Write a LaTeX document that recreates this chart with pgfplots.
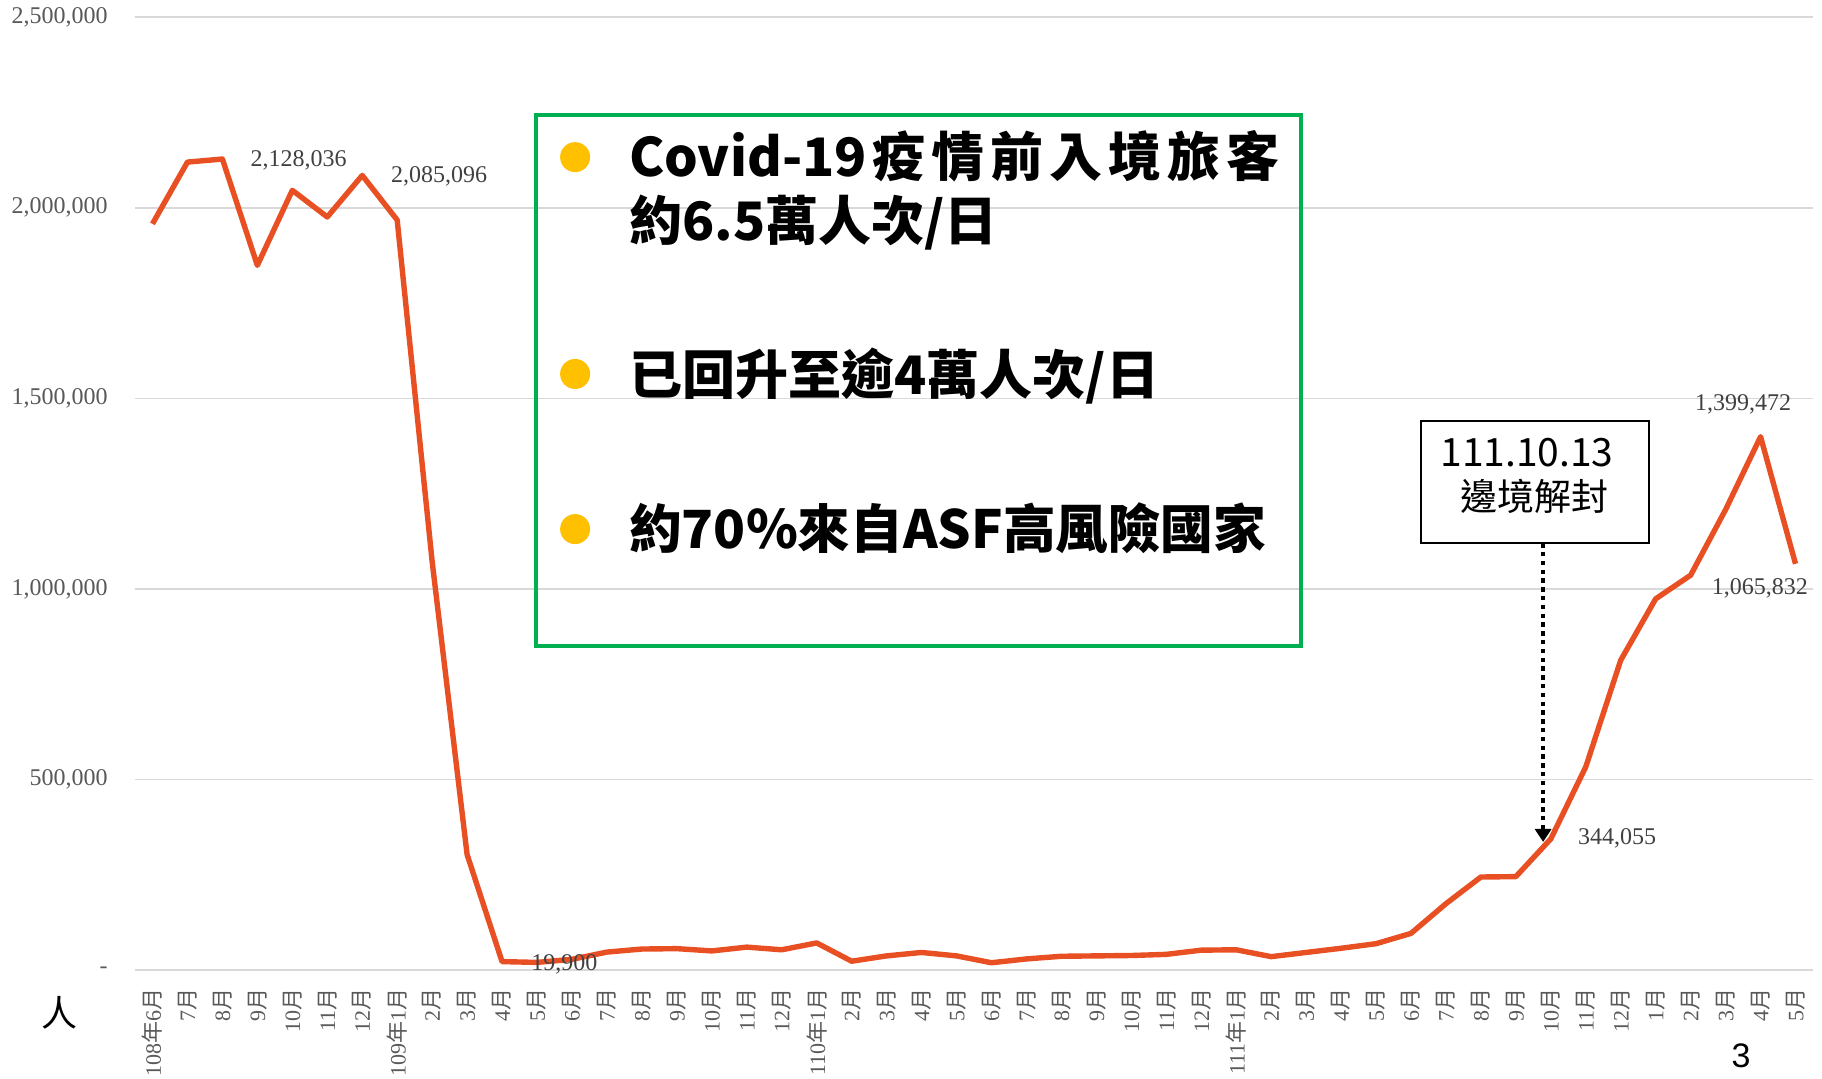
\documentclass[border=0pt]{standalone}
\usepackage{pgfplots}
\pgfplotsset{compat=1.18}
\usetikzlibrary{arrows.meta}
\usepackage{fontspec}
\setmainfont{Liberation Serif}
\newfontfamily\cjk{Noto Sans CJK TC}
\newfontfamily\sans{Liberation Sans}
\definecolor{lineor}{RGB}{232,80,36}
\definecolor{gridg}{RGB}{217,217,217}
\definecolor{tickg}{RGB}{89,89,89}
\definecolor{labg}{RGB}{64,64,64}
\definecolor{boxgreen}{RGB}{0,176,80}
\definecolor{bullety}{RGB}{255,192,0}
\newcommand\Y{{\cjk 年}}
\newcommand\M{{\cjk 月}}
\begin{document}
\begin{tikzpicture}
\begin{axis}[
  at={(0pt,0pt)}, anchor=south west,
  scale only axis, width=839pt, height=476.35pt,
  xmin=-0.5, xmax=47.5, ymin=0, ymax=2500000,
  clip=false,
  axis line style={draw=none},
  tick style={draw=none},
  major tick length=0pt,
  ymajorgrids, grid style={gridg, line width=0.8pt},
  scaled y ticks=false,
  ytick={0,500000,1000000,1500000,2000000,2500000},
  yticklabels={{-\hspace{6pt}},{500,000},{1,000,000},{1,500,000},{2,000,000},{2,500,000}},
  yticklabel style={font=\fontsize{12}{12}\selectfont, text=tickg, anchor=east, inner sep=0pt},
  yticklabel shift=13.5pt,
  xtick={0,...,47},
  xticklabels={108\Y 6\M,7\M,8\M,9\M,10\M,11\M,12\M,109\Y 1\M,2\M,3\M,4\M,5\M,6\M,7\M,8\M,9\M,10\M,11\M,12\M,110\Y 1\M,2\M,3\M,4\M,5\M,6\M,7\M,8\M,9\M,10\M,11\M,12\M,111\Y 1\M,2\M,3\M,4\M,5\M,6\M,7\M,8\M,9\M,10\M,11\M,12\M,1\M,2\M,3\M,4\M,5\M},
  xticklabel style={font=\fontsize{11}{11}\selectfont, text=tickg, rotate=90, anchor=east, inner sep=0pt},
  xticklabel shift=9pt,
]
\addplot[lineor, line width=2.7pt, line join=round, mark=none] coordinates {
(0,1958000) (1,2120000) (2,2128036) (3,1849000) (4,2046000) (5,1976000) (6,2085096) (7,1968000)
(8,1072000) (9,303000) (10,22000) (11,19900) (12,28000) (13,47000) (14,55000) (15,56000)
(16,50000) (17,60000) (18,53000) (19,71000) (20,23000) (21,37000) (22,46000) (23,37000)
(24,19000) (25,29000) (26,36000) (27,37000) (28,38000) (29,41000) (30,52000) (31,53000)
(32,35000) (33,46000) (34,57000) (35,69000) (36,96000) (37,174000) (38,244000) (39,245000)
(40,344055) (41,533000) (42,813000) (43,974000) (44,1036000) (45,1208000) (46,1399472) (47,1065832)
};
% data labels
\node[font=\fontsize{12}{12}\selectfont, text=labg, inner sep=0pt] at (axis cs:4.18,2125000) {2,128,036};
\node[font=\fontsize{12}{12}\selectfont, text=labg, inner sep=0pt] at (axis cs:8.2,2083000) {2,085,096};
\node[font=\fontsize{12}{12}\selectfont, text=labg, inner sep=0pt] at (axis cs:11.78,15000) {19,900};
\node[font=\fontsize{12}{12}\selectfont, text=labg, inner sep=0pt] at (axis cs:41.9,346000) {344,055};
\node[font=\fontsize{12}{12}\selectfont, text=labg, inner sep=0pt] at (axis cs:45.5,1483000) {1,399,472};
\node[font=\fontsize{12}{12}\selectfont, text=labg, inner sep=0pt] at (axis cs:45.98,1002000) {1,065,832};
% green info box
\draw[boxgreen, line width=2pt] (axis cs:10.97,2243000) rectangle (axis cs:32.85,850000);
\fill[bullety] (axis cs:12.09,2133000) circle[radius=7.5pt];
\fill[bullety] (axis cs:12.09,1564000) circle[radius=7.5pt];
\fill[bullety] (axis cs:12.09,1157000) circle[radius=7.5pt];
\node[anchor=base west, inner sep=0pt, font=\fontsize{26.5}{26.5}\selectfont\cjk\bfseries] at (axis cs:13.63,2081000) {Covid-19\kern3pt 疫\kern3pt 情\kern3pt 前\kern3pt 入\kern3pt 境\kern3pt 旅\kern3pt 客};
\node[anchor=base west, inner sep=0pt, font=\fontsize{26.5}{26.5}\selectfont\cjk\bfseries] at (axis cs:13.63,1913000) {約6.5萬人次/日};
\node[anchor=base west, inner sep=0pt, font=\fontsize{26.5}{26.5}\selectfont\cjk\bfseries] at (axis cs:13.63,1511000) {已回升至逾4萬人次/日};
\node[anchor=base west, inner sep=0pt, font=\fontsize{26.3}{26.3}\selectfont\cjk\bfseries] at (axis cs:13.63,1105000) {約70\%來自ASF高風險國家};
% border reopening annotation
\draw[black, line width=1pt, fill=white] (axis cs:36.3,1440000) rectangle (axis cs:42.8,1120000);
\node[anchor=base, inner sep=0pt, font=\fontsize{19.5}{19.5}\selectfont\cjk] at (axis cs:39.32,1322000) {111.10.13};
\node[anchor=base, inner sep=0pt, font=\fontsize{18.5}{18.5}\selectfont\cjk] at (axis cs:39.52,1207000) {邊境解封};
\draw[black, line width=1.7pt, dash pattern=on 2.2pt off 2.2pt, -{Triangle[width=8pt,length=6.5pt]}] (axis cs:39.78,1120000) -- (axis cs:39.78,336000);
% unit and page number
\node[font=\fontsize{18}{18}\selectfont\cjk, inner sep=0pt] at (axis cs:-2.65,-112800) {人};
\node[font=\fontsize{17}{17}\selectfont\sans, anchor=base, inner sep=0pt] at (axis cs:45.44,-257000) {3};
\end{axis}
\pgfresetboundingbox
\useasboundingbox (-67.5pt,-54.5pt) rectangle (843.5pt,485pt);
\end{tikzpicture}
\end{document}
